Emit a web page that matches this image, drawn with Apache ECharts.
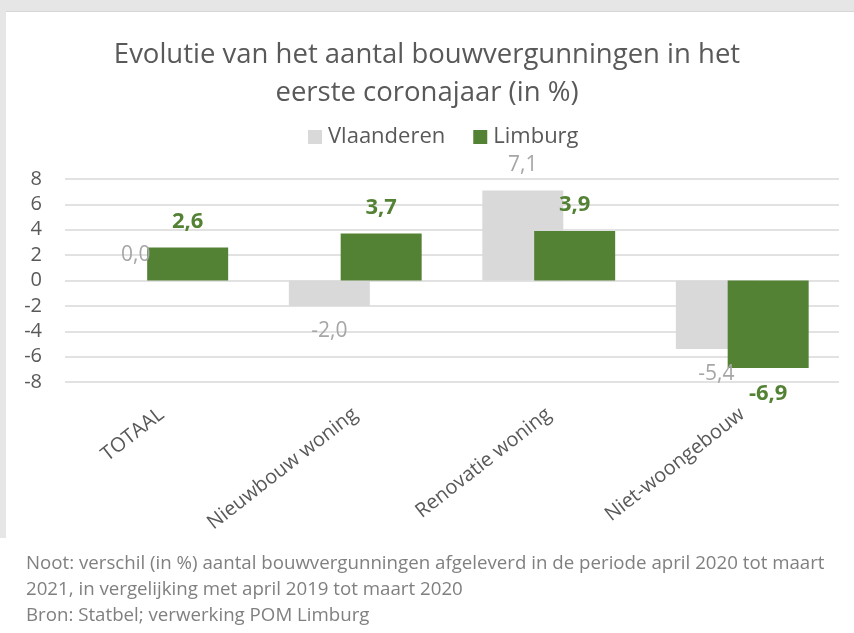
<!DOCTYPE html>
<html>
<head>
<meta charset="utf-8">
<script src="https://cdn.jsdelivr.net/npm/echarts@6/dist/echarts.min.js"></script>
<style>
  html, body { margin: 0; padding: 0; background: #fff; }
  .page { position: relative; width: 854px; height: 633px; background: #fff; overflow: hidden; }
  .strip-top { position: absolute; left: 0; top: 0; width: 854px; height: 11px; background: #e6e6e6; border-bottom: 1px solid #d6d6d6; }
  .strip-left { position: absolute; left: 0; top: 11px; width: 6px; height: 527px; background: #e6e6e6; }
  .chart { position: absolute; left: 0; top: 0; width: 854px; height: 633px; }
</style>
</head>
<body>
<div class="page">
  <div class="strip-top"></div>
  <div class="strip-left"></div>
  <div class="chart" id="chart"></div>
</div>
<script>
// categories and values (in %)
const categories = ['TOTAAL', 'Nieuwbouw woning', 'Renovatie woning', 'Niet-woongebouw']
const vlaanderen = [0.0, -2.0, 7.1, -5.4]
const limburg = [2.6, 3.7, 3.9, -6.9]
const yTicks = { min: -8, max: 8, step: 2 }

const noteLines = [
  'Noot: verschil (in %) aantal bouwvergunningen afgeleverd in de periode april 2020 tot maart',
  '2021, in vergelijking met april 2019 tot maart 2020',
  'Bron: Statbel; verwerking POM Limburg'
]

const font = 'Open Sans'
const fmt = v => v.toFixed(1).replace('.', ',')

// label goes above positive bars, below negative ones
function barData(values) {
  return values.map(v => ({
    value: v,
    label: { position: v < 0 ? 'bottom' : 'top' }
  }))
}

const chart = echarts.init(document.getElementById('chart'))

chart.setOption({
  animation: false,
  textStyle: { fontFamily: font },
  title: {
    text: 'Evolutie van het aantal bouwvergunningen in het\neerste coronajaar (in %)',
    left: 'center',
    top: 31,
    textStyle: {
      fontFamily: font,
      fontSize: 27.5,
      fontWeight: 'normal',
      color: '#595959',
      lineHeight: 38
    }
  },
  legend: {
    top: 121,
    left: 303,
    itemWidth: 14,
    itemHeight: 14,
    itemGap: 28,
    icon: 'rect',
    textStyle: { fontFamily: font, fontSize: 22, color: '#595959', padding: [0, 0, 0, 1] },
    data: ['Vlaanderen', 'Limburg']
  },
  grid: {
    left: 65,
    right: 15,
    top: 179,
    bottom: 251
  },
  xAxis: {
    type: 'category',
    data: categories,
    axisLine: { show: false, onZero: false },
    axisTick: { show: false },
    axisLabel: {
      rotate: 38,
      margin: 30,
      fontFamily: font,
      fontSize: 20,
      color: '#595959'
    }
  },
  yAxis: {
    type: 'value',
    min: yTicks.min,
    max: yTicks.max,
    interval: yTicks.step,
    axisLine: { show: false },
    axisTick: { show: false },
    axisLabel: {
      margin: 23,
      fontFamily: font,
      fontSize: 20,
      color: '#595959'
    },
    splitLine: {
      lineStyle: { color: '#d9d9d9', width: 1.5 }
    }
  },
  series: [
    {
      name: 'Vlaanderen',
      type: 'bar',
      barWidth: 81,
      barGap: '-36%',
      itemStyle: { color: '#d9d9d9' },
      label: {
        show: true,
        distance: 15,
        formatter: p => fmt(p.value),
        fontFamily: font,
        fontSize: 21,
        color: '#a6a6a6'
      },
      data: barData(vlaanderen)
    },
    {
      name: 'Limburg',
      type: 'bar',
      barWidth: 81,
      barGap: '-36%',
      itemStyle: { color: '#548235' },
      label: {
        show: true,
        distance: 15,
        formatter: p => fmt(p.value),
        fontFamily: font,
        fontSize: 22,
        fontWeight: 'bold',
        color: '#548235'
      },
      data: barData(limburg)
    }
  ],
  graphic: noteLines.map((line, i) => ({
    type: 'text',
    left: 26,
    top: 554 + i * 26,
    style: {
      text: line,
      font: '18.7px "Open Sans"',
      fill: '#808080'
    }
  }))
})
</script>
</body>
</html>
